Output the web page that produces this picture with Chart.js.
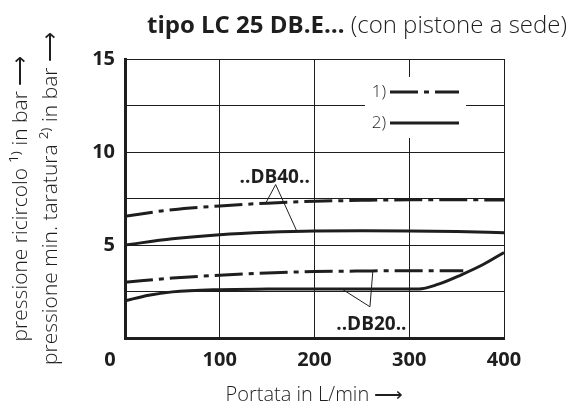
<!DOCTYPE html>
<html>
<head>
<meta charset="utf-8">
<script src="https://cdn.jsdelivr.net/npm/chart.js@4.4.1/dist/chart.umd.min.js"></script>
<style>
  html, body { margin: 0; padding: 0; background: #fff; }
  #wrap { width: 570px; height: 407px; }
</style>
</head>
<body>
<div id="wrap"><canvas id="curve"></canvas></div>
<script>
// Portata (L/min) e pressioni (bar)
const flowDB40 = [0, 50, 100, 150, 200, 250, 300, 350, 400]
const ricircoloDB40 = [6.55, 6.9, 7.1, 7.25, 7.35, 7.4, 7.43, 7.43, 7.42]
const taraturaDB40 = [5.0, 5.33, 5.55, 5.68, 5.75, 5.76, 5.75, 5.72, 5.66]

const flowRicDB20 = [0, 50, 100, 150, 200, 250, 300, 357]
const ricircoloDB20 = [3.0, 3.22, 3.38, 3.5, 3.57, 3.6, 3.62, 3.62]

const flowTarDB20 = [0, 25, 50, 100, 150, 200, 250, 310, 330, 355, 378, 400]
const taraturaDB20 = [2.0, 2.3, 2.48, 2.6, 2.63, 2.64, 2.64, 2.64, 2.88, 3.4, 3.95, 4.6]

const xTicks = [0, 100, 200, 300, 400]
const yTicks = [5, 10, 15]

const ink = '#1e1e1e'
const dashDot = [28, 6, 5, 6]

function points(xs, ys) {
    return xs.map((x, i) => ({x: x, y: ys[i]}))
}

function curve(data, dashed) {
    return {
        data: data,
        borderColor: ink,
        borderWidth: 3,
        borderDash: dashed ? dashDot : [],
        pointRadius: 0,
        fill: false,
        cubicInterpolationMode: 'monotone',
        borderCapStyle: 'butt'
    }
}

// titolo, legenda interna, etichette DB40/DB20 con linee di richiamo
const extras = {
    id: 'extras',
    beforeDatasetsDraw(chart) {
        const ctx = chart.ctx
        const a = chart.chartArea
        // riquadro bianco della legenda che interrompe la griglia
        ctx.save()
        ctx.fillStyle = '#fff'
        ctx.fillRect(a.left + 240, a.top + 18, 101, 61)
        ctx.restore()
    },
    afterDraw(chart) {
        const ctx = chart.ctx
        const a = chart.chartArea
        const xs = chart.scales.x
        const ys = chart.scales.y
        const px = v => xs.getPixelForValue(v)
        const py = v => ys.getPixelForValue(v)

        ctx.save()
        ctx.fillStyle = ink
        ctx.textBaseline = 'alphabetic'

        // titolo con parte in grassetto
        const bold = 'tipo LC 25 DB.E… '
        const light = '(con pistone a sede)'
        ctx.font = 'bold 24px "Open Sans"'
        const w1 = ctx.measureText(bold).width
        ctx.font = '300 24px "Open Sans"'
        const w2 = ctx.measureText(light).width
        let tx = 567 - w1 - w2
        ctx.textAlign = 'left'
        ctx.font = 'bold 24px "Open Sans"'
        ctx.fillText(bold, tx, 33)
        ctx.font = '300 24px "Open Sans"'
        ctx.fillText(light, tx + w1, 33)

        // "0" all'origine
        ctx.font = 'bold 20px "Open Sans"'
        ctx.textAlign = 'center'
        ctx.textBaseline = 'middle'
        ctx.fillText('0', px(0) - 15, a.bottom + 22)

        // legenda 1) tratto-punto, 2) continua
        ctx.font = '300 17px "Open Sans"'
        ctx.textAlign = 'right'
        ctx.fillText('1)', a.left + 261, a.top + 33)
        ctx.fillText('2)', a.left + 261, a.top + 64)
        ctx.strokeStyle = ink
        ctx.lineWidth = 3
        ctx.lineCap = 'butt'
        ctx.setLineDash(dashDot)
        ctx.beginPath()
        ctx.moveTo(a.left + 265, a.top + 33)
        ctx.lineTo(a.left + 334, a.top + 33)
        ctx.stroke()
        ctx.setLineDash([])
        ctx.beginPath()
        ctx.moveTo(a.left + 265, a.top + 64)
        ctx.lineTo(a.left + 334, a.top + 64)
        ctx.stroke()

        // etichette con richiami
        const labels = [
            {text: '..DB40..', at: [158, 8.6], from: [159, 8.25], to: [[148, 7.2], [181, 5.78]]},
            {text: '..DB20..', at: [260, 0.72], from: [258.5, 1.68], to: [[261.5, 3.55], [230, 2.6]]}
        ]
        ctx.lineWidth = 1
        labels.forEach(l => {
            ctx.font = 'bold 19px "Open Sans"'
            ctx.textAlign = 'center'
            ctx.textBaseline = 'middle'
            ctx.fillText(l.text, px(l.at[0]), py(l.at[1]))
            l.to.forEach(t => {
                ctx.beginPath()
                ctx.moveTo(px(l.from[0]), py(l.from[1]))
                ctx.lineTo(px(t[0]), py(t[1]))
                ctx.stroke()
            })
        })
        ctx.restore()
    }
}

new Chart(document.getElementById('curve'), {
    type: 'line',
    data: {
        datasets: [
            curve(points(flowDB40, ricircoloDB40), true),
            curve(points(flowDB40, taraturaDB40), false),
            curve(points(flowRicDB20, ricircoloDB20), true),
            curve(points(flowTarDB20, taraturaDB20), false)
        ]
    },
    options: {
        responsive: true,
        maintainAspectRatio: false,
        animation: false,
        layout: {
            padding: {top: 59, right: 66, bottom: 0, left: 0}
        },
        plugins: {
            legend: {display: false},
            tooltip: {enabled: false}
        },
        scales: {
            x: {
                type: 'linear',
                min: 0,
                max: 400,
                afterBuildTicks: s => { s.ticks = xTicks.map(v => ({value: v})) },
                afterFit: s => { s.height = 69 },
                ticks: {
                    padding: 10,
                    color: ink,
                    font: {family: 'Open Sans', size: 20, weight: 'bold'},
                    callback: v => v === 0 ? '' : v
                },
                grid: {color: ink, lineWidth: 1, drawTicks: false},
                border: {color: ink, width: 3},
                title: {
                    display: true,
                    text: 'Portata in L/min ⟶',
                    color: ink,
                    padding: {top: 0, bottom: 0},
                    font: {family: 'Open Sans', size: 20, weight: 300}
                }
            },
            y: {
                min: 0,
                max: 15,
                afterBuildTicks: s => {
                    s.ticks = [0, 2.5, 5, 7.5, 10, 12.5, 15].map(v => ({value: v}))
                },
                afterFit: s => { s.width = 125 },
                ticks: {
                    padding: 10,
                    color: ink,
                    font: {family: 'Open Sans', size: 20, weight: 'bold'},
                    callback: v => yTicks.includes(v) ? v : ''
                },
                grid: {color: ink, lineWidth: 1, drawTicks: false},
                border: {color: ink, width: 3},
                title: {
                    display: true,
                    text: ['pressione ricircolo ¹⁾ in bar ⟶', 'pressione min. taratura ²⁾ in bar ⟶'],
                    color: ink,
                    padding: {top: 6, bottom: 0},
                    font: {family: 'Open Sans', size: 21, weight: 300, lineHeight: 1.43}
                }
            }
        }
    },
    plugins: [extras]
})
</script>
</body>
</html>
